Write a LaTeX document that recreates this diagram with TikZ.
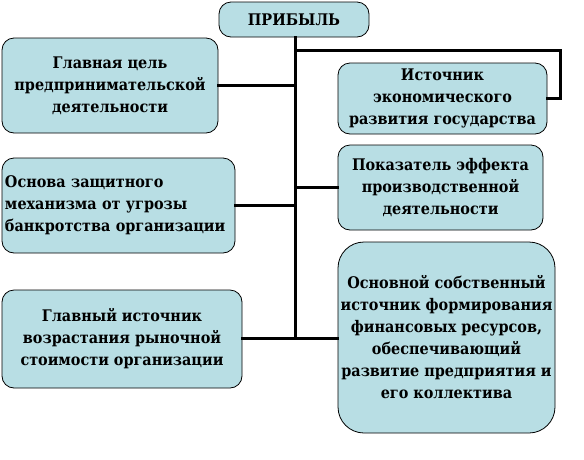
\documentclass[tikz,border=0pt]{standalone}
\usepackage{fontspec}
\newfontfamily\dvsc{DejaVu Serif Condensed}
\definecolor{boxfill}{RGB}{184,222,228}
\begin{document}
\begin{tikzpicture}[x=1pt,y=-1pt,
  box/.style={draw=black,line width=0.8pt,fill=boxfill,rounded corners=12pt,inner sep=0pt,
    font=\dvsc\bfseries\fontsize{16}{22}\selectfont,align=center},
  link/.style={line width=3pt,line cap=rect}]
\useasboundingbox (0,0) rectangle (584,459);
\node[box,minimum width=150pt,minimum height=35pt] (top) at (294,19.5) {ПРИБЫЛЬ};
\node[box,minimum width=216pt,minimum height=95pt] (l1) at (110,85.5) {Главная цель\\предпринимательской\\деятельности};
\node[box,minimum width=233pt,minimum height=95pt,text width=227pt,align=left] (l2) at (118.5,205.5) {Основа защитного\\механизма от угрозы\\банкротства организации\\[14pt]};
\node[box,minimum width=240pt,minimum height=98pt] (l3) at (122,339) {Главный источник\\возрастания рыночной\\стоимости организации};
\node[box,minimum width=209pt,minimum height=71pt] (r1) at (442.5,98.5) {Источник\\экономического\\развития государства};
\node[box,minimum width=205pt,minimum height=85pt] (r2) at (440.5,187.5) {Показатель эффекта\\производственной\\деятельности};
\node[box,minimum width=217pt,minimum height=191pt,rounded corners=26pt] (r3) at (446.5,337.5) {Основной собственный\\источник формирования\\финансовых ресурсов,\\обеспечивающий\\развитие предприятия и\\его коллектива};
\coordinate (j1) at (295,50);
\coordinate (j2) at (560,50);
\coordinate (j3) at (560,98);
\coordinate (bot) at (295,338);
\draw[link] (top.south -| bot) -- (bot);
\draw[link] (j1) -- (j2) -- (j3) -- (r1.east |- j3);
\draw[link] (l1.east) -- (l1.east -| bot);
\draw[link] (l2.east) -- (l2.east -| bot);
\draw[link] (r2.west) -- (r2.west -| bot);
\draw[link] (l3.east |- bot) -- (r3.west |- bot);
\end{tikzpicture}
\end{document}
